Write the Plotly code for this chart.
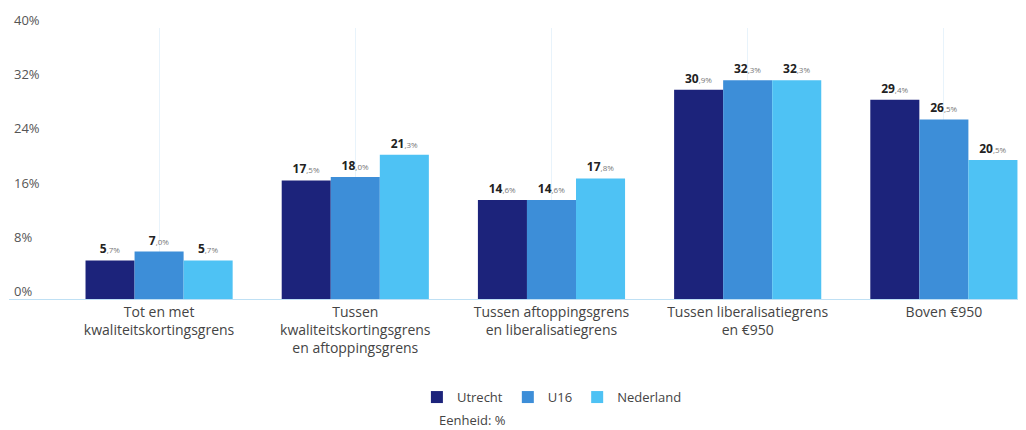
import plotly.graph_objects as go

categories = [
    "Tot en met<br>kwaliteitskortingsgrens",
    "Tussen<br>kwaliteitskortingsgrens<br>en aftoppingsgrens",
    "Tussen aftoppingsgrens<br>en liberalisatiegrens",
    "Tussen liberalisatiegrens<br>en €950",
    "Boven €950",
]
utrecht = [5.7, 17.5, 14.6, 30.9, 29.4]
u16 = [7.0, 18.0, 14.6, 32.3, 26.5]
nederland = [5.7, 21.3, 17.8, 32.3, 20.5]
y_ticks = [0, 8, 16, 24, 32, 40]

series = [
    ("Utrecht", utrecht, "#1c237b"),
    ("U16", u16, "#3d8ed8"),
    ("Nederland", nederland, "#4ec2f4"),
]


def label(v):
    # dik geheel deel, klein decimaal deel
    heel, dec = f"{v:.1f}".split(".")
    return f"<b>{heel}</b><span style='font-size:8px;color:#777'>,{dec}%</span>"


fig = go.Figure()
for naam, waarden, kleur in series:
    fig.add_trace(
        go.Bar(
            x=categories,
            y=waarden,
            name=naam,
            marker=dict(color=kleur, line=dict(width=0)),
            text=[label(v) for v in waarden],
            textposition="outside",
            textfont=dict(size=12, color="#222"),
            cliponaxis=False,
        )
    )

# y-labels boven de lijn, links in het plotvlak
annotations = [
    dict(
        text=f"{t}%",
        xref="paper",
        yref="y",
        x=0.003,
        y=t,
        yshift=8,
        xanchor="left",
        yanchor="middle",
        showarrow=False,
        font=dict(size=13, color="#555"),
    )
    for t in y_ticks
]
annotations.append(
    dict(
        text="Eenheid: %",
        xref="paper",
        yref="paper",
        x=0.458,
        y=-0.448,
        xanchor="center",
        yanchor="middle",
        showarrow=False,
        font=dict(size=13, color="#444"),
    )
)

# pagina heeft 8px body-marge, daarom 1018x422
fig.update_layout(
    width=1018,
    height=422,
    barmode="group",
    bargap=0.25,
    bargroupgap=0,
    template="plotly_white",
    font=dict(family="Open Sans", color="#444"),
    margin=dict(l=1, r=6, t=20, b=131, autoexpand=False),
    plot_bgcolor="white",
    paper_bgcolor="white",
    xaxis=dict(
        range=[-0.765, 4.388],
        showgrid=True,
        gridcolor="#e8f3fb",
        gridwidth=1,
        showline=True,
        linecolor="#bfe0f4",
        linewidth=1,
        tickfont=dict(size=14, color="#444"),
        ticks="",
    ),
    yaxis=dict(
        range=[0, 40],
        tickvals=y_ticks,
        showticklabels=False,
        showgrid=False,
        zeroline=False,
    ),
    legend=dict(
        orientation="h",
        x=0.537,
        xanchor="center",
        y=-0.362,
        yanchor="middle",
        font=dict(size=13, color="#444"),
        traceorder="normal",
        itemwidth=30,
    ),
    annotations=annotations,
)

fig.write_html("out.html")
